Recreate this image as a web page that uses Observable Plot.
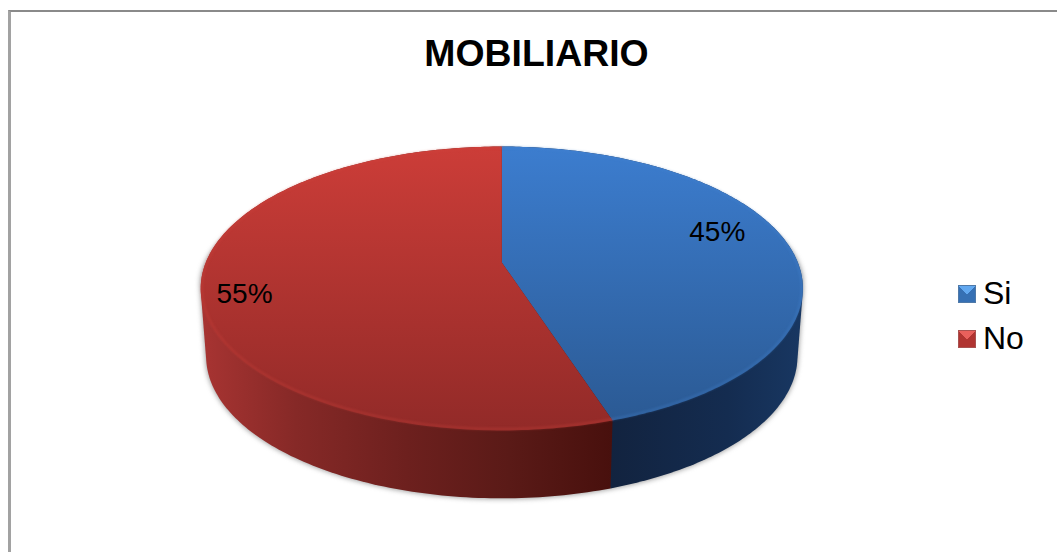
<!DOCTYPE html>
<html>
<head>
<meta charset="utf-8">
<script src="https://cdn.jsdelivr.net/npm/d3@7"></script>
<script src="https://cdn.jsdelivr.net/npm/@observablehq/plot@0.6"></script>
<style>
  html, body { margin: 0; padding: 0; background: #fff; overflow: hidden; width: 1057px; height: 552px; }
  body { font-family: "Liberation Sans", Arial, sans-serif; position: relative; color: #000; }
  #frame { position: absolute; left: 8px; top: 10px; width: 1100px; height: 600px; border-left: 3px solid #a2a2a2; border-top: 2px solid #8a8a8a; box-sizing: border-box; }
  #title { position: absolute; left: 336.5px; width: 400px; top: 31px; text-align: center; font-weight: bold; font-size: 37.4px; line-height: 44px; }
  #chart { position: absolute; left: 0; top: 0; }
  .key { position: absolute; left: 958px; display: flex; align-items: center; font-size: 32px; line-height: 36px; height: 36px; }
  .swatch { width: 18px; height: 18px; box-sizing: border-box; margin-right: 7px; }
  .key b { font-weight: normal; position: relative; top: -1px; }
</style>
</head>
<body>
<div id="frame"></div>
<div id="chart"></div>
<div id="title"></div>
<div id="legend"></div>
<script>
const chartTitle = "MOBILIARIO";
const categories = ["Si", "No"];
const percents = [45, 55];
const topGradients = [["#3c7dcf", "#2b5a94"], ["#cc3d38", "#922a28"]];
const swatchColors = [
  {top: "#62a8f0", side: "#3670b4", bottom: "#28578f", edge: "#4f79a8"},
  {top: "#e8605c", side: "#b03431", bottom: "#8c2725", edge: "#a85250"}
];
const rimColors = ["#4483d0", "#d2453e"];

const tilt = 0.183, depth = 0.495, baseShrink = 0.982;
const project = (deg, radius = 1, lowered = false) => {
  const a = deg * Math.PI / 180;
  const u = radius * Math.sin(a), v = radius * Math.cos(a), w = 1 + tilt * v;
  return {x: (u / w) * (lowered ? baseShrink : 1), y: v / w - (lowered ? depth : 0)};
};
const arc = (from, to, lowered = false) =>
  d3.range(0, 201).map(i => project(from + (to - from) * i / 200, 1, lowered));
const hull = pts => d3.polygonHull(pts.map(p => [p.x, p.y])).map(([x, y]) => ({x, y}));

const total = d3.sum(percents);
let running = 0;
const slices = categories.map((name, i) => {
  const start = running / total * 360;
  running += percents[i];
  const end = running / total * 360;
  return {name, i, start, end, mid: (start + end) / 2};
});

const marks = [];
// soft shadow beneath the solid, kept away from the back edge
const solid = hull([...arc(0, 360, true), ...arc(0, 360).map(p => ({x: p.x, y: p.y * 0.85}))]);
marks.push(Plot.line(solid, {
  x: "x", y: "y", fill: "#666", stroke: "#666", strokeWidth: 2, fillOpacity: 0.6, strokeOpacity: 0.4, imageFilter: "blur(2.5px)"
}));
// walls
for (const s of slices) {
  const wall = hull([...arc(s.start, s.end), ...arc(s.start, s.end, true)]);
  marks.push(Plot.line(wall, {x: "x", y: "y", fill: `url(#wall${s.i})`, stroke: "none"}));
}
// top faces
for (const s of slices) {
  const wedge = [project(0, 0), ...arc(s.start, s.end)];
  marks.push(Plot.line(wedge, {x: "x", y: "y", fill: `url(#top${s.i})`, stroke: "none"}));
}
// bevel on the rim
for (const s of slices) {
  marks.push(Plot.line(arc(s.start, s.end).map(p => ({x: p.x * 0.996, y: p.y * 0.992})), {
    x: "x", y: "y", stroke: rimColors[s.i], strokeWidth: 2.5, strokeOpacity: 0.3, imageFilter: "blur(0.8px)"
  }));
}
// percentage labels
const labelSpots = [{r: 0.76, dx: -2, dy: -15}, {r: 0.855, dx: -1, dy: 13}];
slices.forEach((s, i) => {
  marks.push(Plot.text([{...project(s.mid, labelSpots[i].r), t: percents[i] + "%"}], {
    x: "x", y: "y", text: "t", dx: labelSpots[i].dx, dy: labelSpots[i].dy, fontSize: 28, fill: "#000", textAnchor: "middle", lineAnchor: "middle"
  }));
});

const plot = Plot.plot({
  width: 1057, height: 552,
  margin: 0,
  style: {background: "transparent", fontFamily: "'Liberation Sans', Arial, sans-serif"},
  x: {domain: [-501.3 / 296, 555.7 / 296], axis: null},
  y: {domain: [-290 / 137.2, 262 / 137.2], axis: null},
  marks
});

// gradients referenced by the fills
const ns = "http://www.w3.org/2000/svg";
const defs = document.createElementNS(ns, "defs");
const gradient = (id, x2, y2, stops) => {
  const g = document.createElementNS(ns, "linearGradient");
  g.setAttribute("id", id);
  g.setAttribute("x1", 0); g.setAttribute("y1", 0);
  g.setAttribute("x2", x2); g.setAttribute("y2", y2);
  stops.forEach(([o, c]) => {
    const st = document.createElementNS(ns, "stop");
    st.setAttribute("offset", o); st.setAttribute("stop-color", c);
    g.appendChild(st);
  });
  defs.appendChild(g);
};
topGradients.forEach((c, i) => gradient("top" + i, 0, 1, [[0, c[0]], [1, c[1]]]));
gradient("wall0", 1, 0, [[0, "#10203a"], [0.36, "#12233f"], [0.75, "#142c50"], [1, "#183762"]]);
gradient("wall1", 1, 0, [[0, "#a83432"], [0.23, "#862927"], [0.5, "#6d201e"], [0.75, "#5a1a17"], [1, "#48100d"]]);
plot.insertBefore(defs, plot.firstChild);
document.getElementById("chart").appendChild(plot);

document.getElementById("title").textContent = chartTitle;
const legend = document.getElementById("legend");
categories.forEach((name, i) => {
  const c = swatchColors[i];
  const row = document.createElement("div");
  row.className = "key";
  row.style.top = (276 + i * 45) + "px";
  const sw = document.createElement("span");
  sw.className = "swatch";
  sw.style.border = `1px solid ${c.edge}`;
  sw.style.background = `conic-gradient(from -45deg at 50% 55%, ${c.top} 0 90deg, ${c.side} 90deg 270deg, ${c.side} 270deg 360deg)`;
  const tx = document.createElement("b");
  tx.textContent = name;
  row.append(sw, tx);
  legend.appendChild(row);
});
</script>
</body>
</html>
